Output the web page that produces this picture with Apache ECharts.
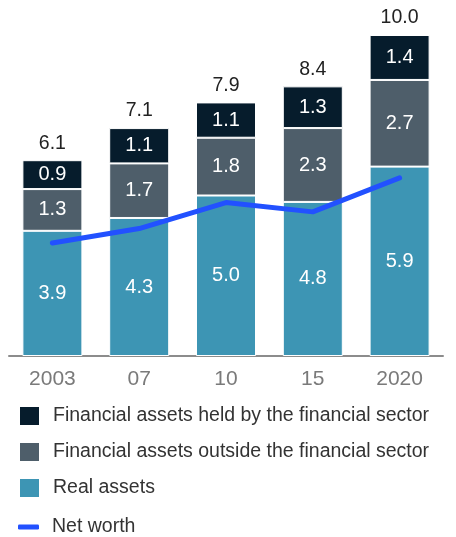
<!DOCTYPE html>
<html>
<head>
<meta charset="utf-8">
<script src="https://cdn.jsdelivr.net/npm/echarts@6/dist/echarts.min.js"></script>
<style>
  html, body { margin: 0; padding: 0; background: #fff; }
  #chart { width: 456px; height: 537px; }
</style>
</head>
<body>
<div id="chart"></div>
<script>
// Balance sheet composition, stacked by asset type, with net worth overlaid
const categories = ['2003', '07', '10', '15', '2020'];
const realAssets = [3.9, 4.3, 5.0, 4.8, 5.9];
const finOutside = [1.3, 1.7, 1.8, 2.3, 2.7];
const finHeld = [0.9, 1.1, 1.1, 1.3, 1.4];
const netWorth = [3.52, 3.97, 4.78, 4.49, 5.55];

const FONT = '"Liberation Sans", Arial, sans-serif';
const COLORS = { held: '#061c2c', outside: '#4e5e6a', real: '#3d95b4', net: '#2251ff' };

function total(i) {
  return (realAssets[i] + finOutside[i] + finHeld[i]).toFixed(1);
}

const insideLabel = {
  show: true,
  position: 'inside',
  color: '#ffffff',
  fontFamily: FONT,
  fontSize: 20,
  formatter: p => p.value.toFixed(1)
};

const barBase = {
  type: 'bar',
  stack: 'total',
  barWidth: 60,
  label: insideLabel
};

const legendText = {
  color: '#333333',
  fontFamily: FONT,
  fontSize: 19.5,
  lineHeight: 20,
  padding: [0, 0, 0, 8]
};

const chart = echarts.init(document.getElementById('chart'));
chart.setOption({
  animation: false,
  grid: { left: 9, right: 13, top: 35, height: 321, containLabel: false },
  xAxis: {
    type: 'category',
    data: categories,
    axisLine: { lineStyle: { color: '#8c8c8c', width: 2 } },
    axisTick: { show: false },
    axisLabel: { color: '#7a7a7a', fontFamily: FONT, fontSize: 21, margin: 13 }
  },
  yAxis: {
    type: 'value',
    min: 0,
    max: 10,
    show: false,
    splitLine: { show: false }
  },
  legend: [
    {
      orient: 'vertical',
      left: 18,
      top: 405,
      padding: 0,
      itemWidth: 21,
      itemHeight: 20,
      itemGap: 14,
      icon: 'rect',
      data: [
        'Financial assets held by the financial sector',
        'Financial assets outside the financial sector',
        'Real assets'
      ],
      textStyle: legendText
    },
    {
      orient: 'vertical',
      left: 18,
      top: 517,
      padding: 0,
      itemWidth: 21,
      itemHeight: 5,
      icon: 'roundRect',
      data: ['Net worth'],
      textStyle: legendText
    }
  ],
  series: [
    Object.assign({}, barBase, {
      name: 'Real assets',
      data: realAssets,
      itemStyle: { color: COLORS.real, borderColor: '#ffffff', borderWidth: 1 }
    }),
    Object.assign({}, barBase, {
      name: 'Financial assets outside the financial sector',
      data: finOutside,
      itemStyle: { color: COLORS.outside, borderColor: '#ffffff', borderWidth: 1 }
    }),
    Object.assign({}, barBase, {
      name: 'Financial assets held by the financial sector',
      data: finHeld,
      itemStyle: { color: COLORS.held, borderColor: '#ffffff', borderWidth: 1 }
    }),
    {
      // zero-height cap that carries the stack total above each column
      name: 'total',
      type: 'bar',
      stack: 'total',
      barWidth: 60,
      data: categories.map(() => 0),
      itemStyle: { color: 'transparent', borderWidth: 0 },
      label: {
        show: true,
        position: 'top',
        distance: 7,
        color: '#222222',
        fontFamily: FONT,
        fontSize: 19.5,
        formatter: p => total(p.dataIndex)
      },
      tooltip: { show: false }
    },
    {
      name: 'Net worth',
      type: 'line',
      data: netWorth,
      symbol: 'none',
      lineStyle: { color: COLORS.net, width: 5, cap: 'round', join: 'round' },
      itemStyle: { color: COLORS.net },
      z: 5
    }
  ]
});
</script>
</body>
</html>
